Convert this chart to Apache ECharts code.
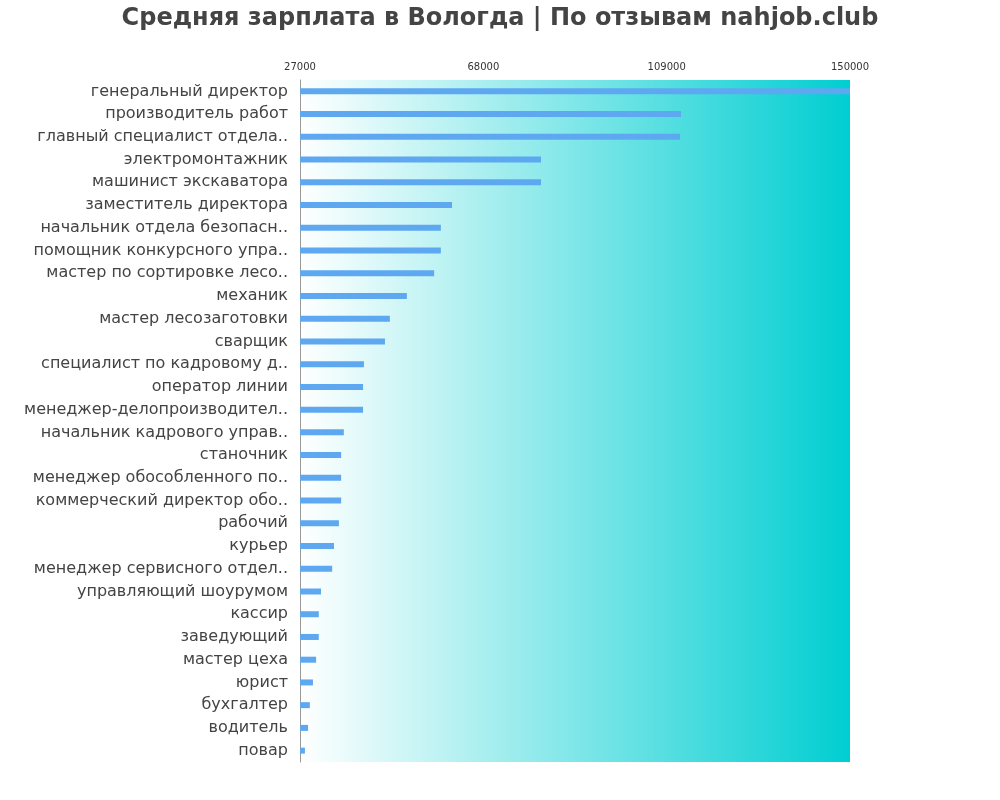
<!DOCTYPE html>
<html><head><meta charset="utf-8">
<script src="https://cdn.jsdelivr.net/npm/echarts@6/dist/echarts.min.js"></script>
<style>html,body{margin:0;padding:0;background:#fff}#c{width:1000px;height:800px}</style>
</head><body><div id="c"></div>
<script>
const categories = ["генеральный директор","производитель работ","главный специалист отдела..","электромонтажник","машинист экскаватора","заместитель директора","начальник отдела безопасн..","помощник конкурсного упра..","мастер по сортировке лесо..","механик","мастер лесозаготовки","сварщик","специалист по кадровому д..","оператор линии","менеджер-делопроизводител..","начальник кадрового управ..","станочник","менеджер обособленного по..","коммерческий директор обо..","рабочий","курьер","менеджер сервисного отдел..","управляющий шоурумом","кассир","заведующий","мастер цеха","юрист","бухгалтер","водитель","повар"];
const salaries = [150000,112200,112000,80900,80900,61000,58500,58500,57000,50900,47100,46000,41300,41100,41100,36800,36200,36200,36200,35700,34600,34200,31700,31200,31200,30600,29900,29200,28800,28100];
const axisMin = 27000, axisMax = 150000, tickStep = 41000;
const chart = echarts.init(document.getElementById('c'));
chart.setOption({
  animation:false,
  title:{text:'Средняя зарплата в Вологда | По отзывам nahjob.club',left:'center',top:2,
    textStyle:{fontFamily:'DejaVu Sans',fontSize:24,fontWeight:'bold',color:'#444'}},
  grid:{left:300,right:150,top:80,bottom:38,show:true,borderWidth:0,
    backgroundColor:new echarts.graphic.LinearGradient(0,0,1,0,[{offset:0,color:'#ffffff'},{offset:1,color:'#00CED1'}])},
  xAxis:{type:'value',position:'top',min:0,max:axisMax-axisMin,interval:tickStep,
    axisLine:{show:false},axisTick:{show:false},splitLine:{show:false},
    axisLabel:{fontSize:10,color:'#333',fontFamily:'DejaVu Sans',formatter:v=>String(v+axisMin)}},
  yAxis:{type:'category',inverse:true,data:categories,
    axisLine:{show:true,lineStyle:{color:'#999'}},axisTick:{show:false},
    axisLabel:{fontSize:16,color:'#444',fontFamily:'DejaVu Sans',margin:12,verticalAlign:'middle',padding:[0,0,6,0]}},
  series:[{type:'bar',data:salaries.map(v=>v-axisMin),barWidth:6,itemStyle:{color:'#5DA8F0'}}]
});
</script></body></html>
